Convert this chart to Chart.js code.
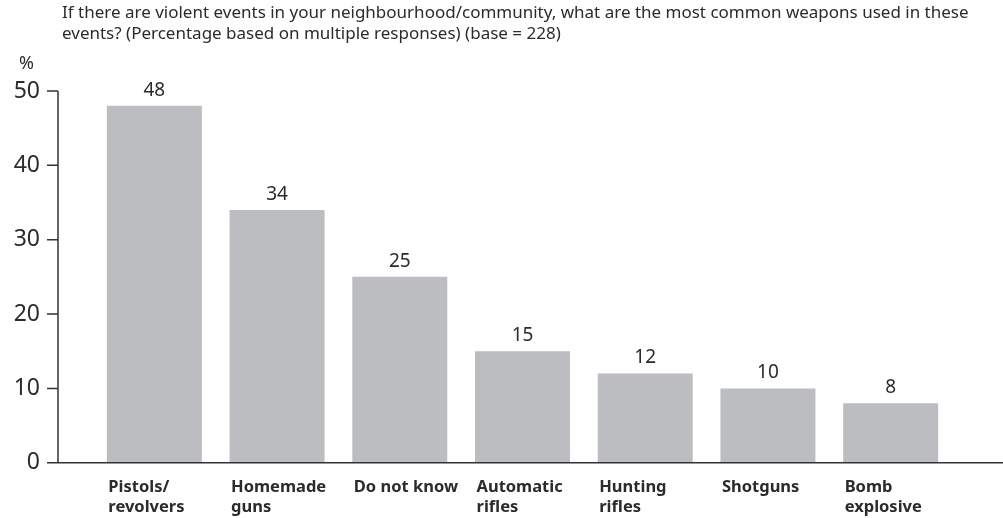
<!DOCTYPE html>
<html lang="en">
<head>
    <meta charset="UTF-8">
    <title>Most common weapons used in violent events</title>
    <style>
        body {
            margin: 0;
            background: #ffffff;
            font-family: "Noto Sans", Arial, sans-serif;
        }
        #wrap {
            position: relative;
            width: 1003px;
            height: 518px;
        }
        #note {
            position: absolute;
            left: 62px;
            top: 1px;
            font-size: 17px;
            line-height: 21px;
            color: #2b2b2b;
            white-space: nowrap;
        }
        #unit {
            position: absolute;
            left: 19px;
            top: 50px;
            font-size: 18px;
            color: #2b2b2b;
        }
        canvas {
            position: absolute;
            left: 0;
            top: 0;
        }
    </style>
</head>
<body>

<div id="wrap">
    <canvas id="weaponsChart" width="1003" height="518"></canvas>
    <div id="note">If there are violent events in your neighbourhood/community, what are the most common weapons used in these<br>events? (Percentage based on multiple responses) (base = 228)</div>
    <div id="unit">%</div>
</div>

<script src="https://cdn.jsdelivr.net/npm/chart.js@4"></script>
<script>
    // datos
    const categories = [
        ['Pistols/', 'revolvers'],
        ['Homemade', 'guns'],
        'Do not know',
        ['Automatic', 'rifles'],
        ['Hunting', 'rifles'],
        'Shotguns',
        ['Bomb', 'explosive']
    ];
    const percentages = [48, 34, 25, 15, 12, 10, 8];
    const yTicks = [0, 10, 20, 30, 40, 50];

    const barColor = '#bcbdc0';
    const inkColor = '#2b2b2b';

    // ejes dibujados a la izquierda del area de barras, como en el original
    const axisLines = {
        id: 'axisLines',
        afterDraw(chart) {
            const ctx = chart.ctx;
            const y = chart.scales.y;
            const axisX = chart.chartArea.left - 35;
            const zeroY = y.getPixelForValue(0);
            ctx.save();
            ctx.strokeStyle = '#333333';
            ctx.lineWidth = 1.5;
            ctx.beginPath();
            ctx.moveTo(axisX, y.getPixelForValue(yTicks[yTicks.length - 1]));
            ctx.lineTo(axisX, zeroY);
            ctx.moveTo(axisX, zeroY);
            ctx.lineTo(chart.width, zeroY);
            yTicks.forEach(v => {
                const py = y.getPixelForValue(v);
                ctx.moveTo(axisX - 11, py);
                ctx.lineTo(axisX, py);
            });
            ctx.stroke();
            ctx.restore();
        }
    };

    // valores encima de cada barra
    const barValues = {
        id: 'barValues',
        afterDatasetsDraw(chart) {
            const ctx = chart.ctx;
            const meta = chart.getDatasetMeta(0);
            ctx.save();
            ctx.font = '19px "Noto Sans", Arial, sans-serif';
            ctx.fillStyle = inkColor;
            ctx.textAlign = 'center';
            ctx.textBaseline = 'bottom';
            meta.data.forEach((bar, i) => {
                ctx.fillText(String(percentages[i]), bar.x, bar.y - 6);
            });
            ctx.restore();
        }
    };

    const ctx = document.getElementById('weaponsChart').getContext('2d');
    const weaponsChart = new Chart(ctx, {
        type: 'bar',
        data: {
            labels: categories,
            datasets: [{
                data: percentages,
                backgroundColor: barColor,
                borderWidth: 0,
                barPercentage: 0.774,
                categoryPercentage: 1
            }]
        },
        options: {
            responsive: false,
            animation: false,
            layout: {
                padding: { top: 91, left: 14, right: 51, bottom: 0 }
            },
            plugins: {
                legend: { display: false },
                tooltip: { enabled: false }
            },
            scales: {
                x: {
                    // marcas invisibles: solo sirven para bajar las etiquetas
                    grid: { color: 'transparent', drawOnChartArea: false, drawTicks: true, tickLength: 13 },
                    border: { display: false },
                    ticks: {
                        color: inkColor,
                        font: { family: '"Noto Sans", Arial, sans-serif', size: 16.5, weight: 'bold', lineHeight: 1.22 },
                        align: 'start',
                        labelOffset: -46,
                        padding: 1,
                        maxRotation: 0,
                        autoSkip: false
                    }
                },
                y: {
                    min: 0,
                    max: 50,
                    // separacion de las etiquetas con marcas invisibles (el padding agranda el margen inferior)
                    grid: { color: 'transparent', drawOnChartArea: false, drawTicks: true, tickLength: 53 },
                    border: { display: false },
                    ticks: {
                        stepSize: 10,
                        color: inkColor,
                        font: { family: '"Noto Sans", Arial, sans-serif', size: 23 },
                        padding: 0
                    },
                    afterFit(scale) { scale.width = 79; }
                }
            }
        },
        plugins: [axisLines, barValues]
    });
</script>

</body>
</html>
